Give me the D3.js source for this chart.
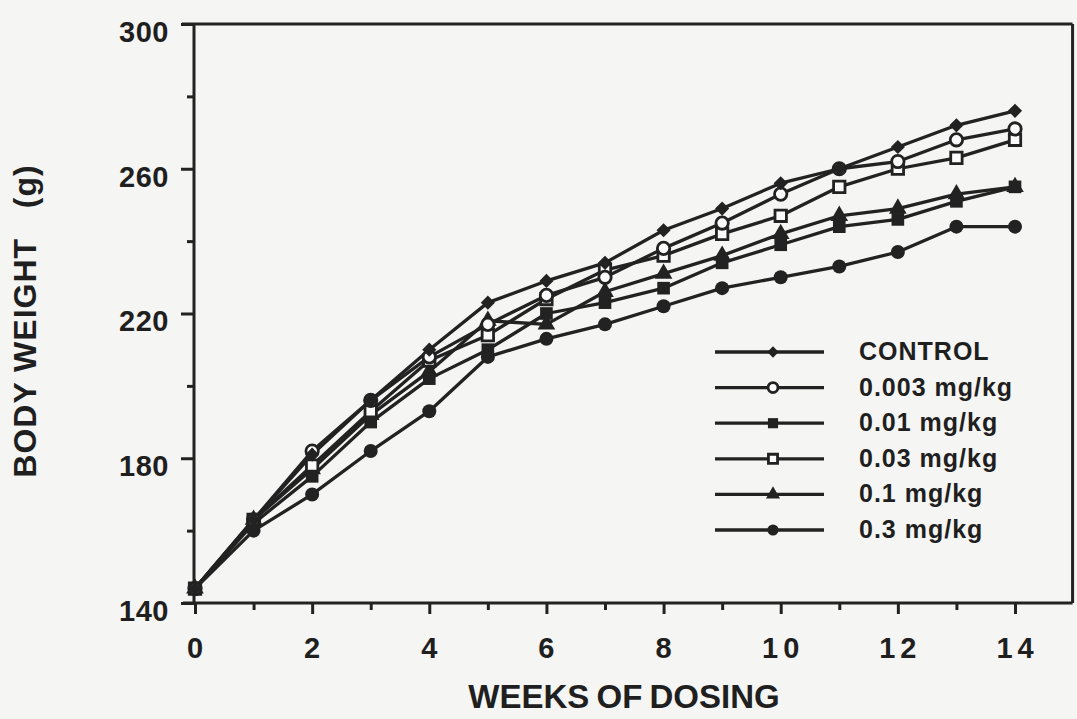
<!DOCTYPE html>
<html>
<head>
<meta charset="utf-8">
<script src="https://cdn.jsdelivr.net/npm/d3@7"></script>
<style>
html,body{margin:0;padding:0;background:#f5f5f4;}
svg{display:block;}
text{font-family:"Liberation Sans",Arial,Helvetica,sans-serif;font-weight:bold;fill:#1f1f1f;}
</style>
</head>
<body>
<svg id="chart" width="1077" height="719"></svg>
<script>
const weeks = [0,1,2,3,4,5,6,7,8,9,10,11,12,13,14];
const seriesNames = ["CONTROL","0.003 mg/kg","0.01 mg/kg","0.03 mg/kg","0.1 mg/kg","0.3 mg/kg"];
const control   = [144,163,181,196,210,223,229,234,243,249,256,260,266,272,276];
const dose0003  = [144,163,182,196,208,217,225,230,238,245,253,260,262,268,271];
const dose001   = [144,162,175,190,202,210,220,223,227,234,239,244,246,251,255];
const dose003   = [144,163,178,193,207,214,224,232,236,242,247,255,260,263,268];
const dose01    = [144,163,177,192,204,218,217,226,231,236,242,247,249,253,255];
const dose03    = [144,160,170,182,193,208,213,217,222,227,230,233,237,244,244];
const seriesValues = [control, dose0003, dose001, dose003, dose01, dose03];
const markerTypes = ["diamond","openCircle","filledSquare","openSquare","triangle","filledCircle"];
const yMajorTicks = [140,180,220,260,300];
const yMinorTicks = [160,200,240,280];
const xMajorTicks = [0,2,4,6,8,10,12,14];
const xMinorTicks = [1,3,5,7,9,11,13];

const svg = d3.select("#chart");
const ink = "#222222";
const x = d3.scaleLinear().domain([0,14]).range([195,1015]);
const y = d3.scaleLinear().domain([140,300]).range([603,24]);
const axisX = 194;
const rightX = x(15) - 1;

function styleAxis(g){
  g.select(".domain").remove();
  g.selectAll(".tick line").attr("stroke",ink).style("stroke",ink).style("stroke-width","3px");
}

// y axis major
const gy = svg.append("g").attr("transform",`translate(${axisX},0)`)
  .call(d3.axisLeft(y).tickValues(yMajorTicks).tickSize(13).tickPadding(12).tickFormat(d3.format("d")));
styleAxis(gy);
gy.selectAll(".tick text").attr("font-size",29).attr("dy","0.6em").attr("letter-spacing",0.5)
  .style("font-family","'Liberation Sans',Arial,sans-serif").style("font-weight","bold").attr("fill","#1f1f1f");
const gy2 = svg.append("g").attr("transform",`translate(${axisX},0)`)
  .call(d3.axisLeft(y).tickValues(yMinorTicks).tickSize(7).tickFormat(""));
styleAxis(gy2);

// x axis
const gx = svg.append("g").attr("transform",`translate(0,${y(140)})`)
  .call(d3.axisBottom(x).tickValues(xMajorTicks).tickSize(11).tickPadding(22).tickFormat(d3.format("d")));
styleAxis(gx);
gx.selectAll(".tick text").attr("font-size",29).attr("dy","0.76em").attr("letter-spacing",5).attr("dx",2)
  .style("font-family","'Liberation Sans',Arial,sans-serif").style("font-weight","bold").attr("fill","#1f1f1f");
const gx2 = svg.append("g").attr("transform",`translate(0,${y(140)})`)
  .call(d3.axisBottom(x).tickValues(xMinorTicks).tickSize(7).tickFormat(""));
styleAxis(gx2);

// frame
const frame = svg.append("g").attr("stroke",ink).attr("stroke-width",3).attr("fill","none");
frame.append("line").attr("x1",axisX-12).attr("x2",rightX).attr("y1",y(300)).attr("y2",y(300));
frame.append("line").attr("x1",axisX).attr("x2",axisX).attr("y1",y(300)).attr("y2",y(140));
frame.append("line").attr("x1",axisX-11).attr("x2",rightX).attr("y1",y(140)).attr("y2",y(140));
frame.append("line").attr("x1",rightX).attr("x2",rightX).attr("y1",y(300)).attr("y2",y(140));

// axis titles
svg.append("text").attr("x",624).attr("y",708).attr("text-anchor","middle")
  .attr("font-size",33).attr("word-spacing",-2).text("WEEKS OF DOSING");
svg.append("text").attr("transform","translate(36,321) rotate(-90)").attr("text-anchor","middle")
  .attr("font-size",32).attr("letter-spacing",1).style("white-space","pre")
  .text("BODY WEIGHT   (g)");

function drawMarker(g, type, scale){
  const s = scale || 1;
  if(type==="diamond"){
    g.append("path").attr("d",d3.symbol().type(d3.symbolSquare).size(100*s*s)())
      .attr("transform","rotate(45)").attr("fill",ink);
  } else if(type==="openCircle"){
    g.append("circle").attr("r",6.2*s).attr("fill","#fbfbfb").attr("stroke",ink).attr("stroke-width",2.8);
  } else if(type==="filledCircle"){
    g.append("circle").attr("r",7*s).attr("fill",ink);
  } else if(type==="filledSquare"){
    g.append("path").attr("d",d3.symbol().type(d3.symbolSquare).size(160*s*s)()).attr("fill",ink);
  } else if(type==="openSquare"){
    g.append("path").attr("d",d3.symbol().type(d3.symbolSquare).size(130*s*s)())
      .attr("fill","#fbfbfb").attr("stroke",ink).attr("stroke-width",2.8);
  } else if(type==="triangle"){
    g.append("path").attr("d",d3.symbol().type(d3.symbolTriangle).size(135*s*s)()).attr("fill",ink);
  }
}

const line = d3.line().x((d,i)=>x(weeks[i])).y(d=>y(d));
const plot = svg.append("g");
seriesValues.forEach((vals)=>{
  plot.append("path").datum(vals).attr("d",line).attr("fill","none")
    .attr("stroke",ink).attr("stroke-width",3.3).attr("stroke-linejoin","round");
});
[5,4,2,3,1,0].forEach(si=>{
  seriesValues[si].forEach((v,i)=>{
    const g = plot.append("g").attr("transform",`translate(${x(weeks[i])},${y(v)})`);
    drawMarker(g, markerTypes[si], 1);
  });
});

// legend
const legend = svg.append("g");
seriesNames.forEach((name,i)=>{
  const ly = 352 + i*35.6;
  const g = legend.append("g").attr("transform",`translate(0,${ly})`);
  g.append("line").attr("x1",715).attr("x2",824).attr("y1",0).attr("y2",0)
    .attr("stroke",ink).attr("stroke-width",3.3);
  const m = g.append("g").attr("transform","translate(773,0)");
  drawMarker(m, markerTypes[i], 0.8);
  g.append("text").attr("x",859).attr("y",8).attr("font-size",25).attr("letter-spacing",1).text(name);
});
</script>
</body>
</html>
